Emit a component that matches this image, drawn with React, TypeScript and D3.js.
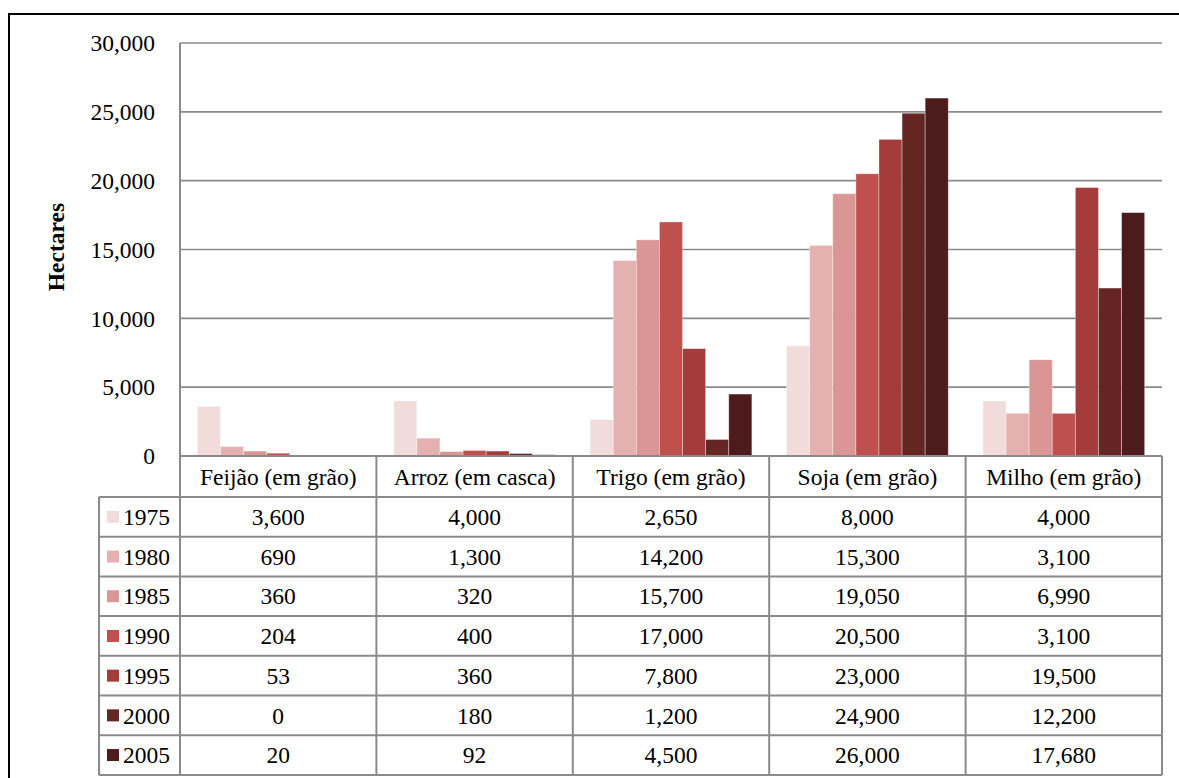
import React from "react";
import * as d3 from "d3";

const categories = ["Feijão (em grão)", "Arroz (em casca)", "Trigo (em grão)", "Soja (em grão)", "Milho (em grão)"];
const years = ["1975", "1980", "1985", "1990", "1995", "2000", "2005"];
const values1975 = [3600, 4000, 2650, 8000, 4000];
const values1980 = [690, 1300, 14200, 15300, 3100];
const values1985 = [360, 320, 15700, 19050, 6990];
const values1990 = [204, 400, 17000, 20500, 3100];
const values1995 = [53, 360, 7800, 23000, 19500];
const values2000 = [0, 180, 1200, 24900, 12200];
const values2005 = [20, 92, 4500, 26000, 17680];
const seriesValues = [values1975, values1980, values1985, values1990, values1995, values2000, values2005];
const colors = ["#f2dcdb", "#e5b1b0", "#d99694", "#c0504d", "#a33c3a", "#642523", "#4d1b1b"];
const yTicks = [0, 5000, 10000, 15000, 20000, 25000, 30000];

const W = 1179;
const H = 778;
const plotLeft = 180;
const plotRight = 1162;
const plotTop = 43;
const plotBottom = 456;
const headerH = 41;
const rowH = 39.7;
const tableLeft = 99;
const FONT = "'Liberation Serif', 'Times New Roman', Times, serif";
const FS = 23.5;
const gridColor = "#8a8a8a";

export default function App() {
  const x0 = d3.scaleBand<string>().domain(categories).range([plotLeft, plotRight]).paddingInner(0).paddingOuter(0);
  const x1 = d3.scaleBand<string>().domain(years).range([0, x0.bandwidth()]).paddingInner(0).paddingOuter(0.75);
  const y = d3.scaleLinear().domain([0, 30000]).range([plotBottom, plotTop]);
  const fmt = d3.format(",");

  const tableBottom = plotBottom + headerH + rowH * years.length;
  const ts = { fontFamily: FONT, fontSize: FS } as React.CSSProperties;

  return (
    <svg width={W} height={H} style={{ position: "absolute", left: 0, top: 0, background: "#fff", fontFamily: FONT }}>
      <rect x={0} y={0} width={W} height={H} fill="#fff" />
      {/* outer frame */}
      <rect x={9} y={14} width={W + 20} height={H + 20} fill="none" stroke="#000" strokeWidth={2} />

      {/* gridlines */}
      {yTicks.slice(1).map((t) => (
        <line key={t} x1={plotLeft} x2={plotRight} y1={y(t)} y2={y(t)} stroke={gridColor} strokeWidth={1.6} />
      ))}
      {/* y tick labels */}
      {yTicks.map((t) => (
        <text key={t} x={155} y={y(t)} dy="0.35em" textAnchor="end" style={ts} fill="#000">
          {fmt(t)}
        </text>
      ))}
      {/* y axis line */}
      <line x1={plotLeft} x2={plotLeft} y1={plotTop} y2={plotBottom + headerH} stroke={gridColor} strokeWidth={2} />

      {/* bars */}
      {categories.map((c, ci) => (
        <g key={c} transform={`translate(${x0(c)},0)`}>
          {years.map((yr, si) => {
            const v = seriesValues[si][ci];
            const h = plotBottom - y(v);
            return (
              <rect
                key={yr}
                x={x1(yr)}
                y={y(v)}
                width={x1.bandwidth()}
                height={Math.max(0, h)}
                fill={colors[si]}
                stroke="rgba(255,255,255,0.45)"
                strokeWidth={0.8}
              />
            );
          })}
        </g>
      ))}

      {/* Hectares label */}
      <text
        transform={`translate(64,247) rotate(-90)`}
        textAnchor="middle"
        style={{ ...ts, fontWeight: "bold" }}
        fill="#000"
      >
        Hectares
      </text>

      {/* table */}
      <g stroke={gridColor} strokeWidth={2} fill="none">
        <line x1={plotLeft} x2={plotRight} y1={plotBottom} y2={plotBottom} />
        {years.map((yr, i) => (
          <line key={yr} x1={tableLeft} x2={plotRight} y1={plotBottom + headerH + rowH * i} y2={plotBottom + headerH + rowH * i} />
        ))}
        <line x1={tableLeft} x2={plotRight} y1={tableBottom} y2={tableBottom} />
        <line x1={tableLeft} x2={tableLeft} y1={plotBottom + headerH} y2={tableBottom} />
        {categories.map((c) => (
          <line key={c} x1={(x0(c) as number) + x0.bandwidth()} x2={(x0(c) as number) + x0.bandwidth()} y1={plotBottom} y2={tableBottom} />
        ))}
        <line x1={plotLeft} x2={plotLeft} y1={plotBottom} y2={tableBottom} />
      </g>

      {/* header text */}
      {categories.map((c) => (
        <text key={c} x={(x0(c) as number) + x0.bandwidth() / 2} y={plotBottom + headerH / 2} dy="0.35em" textAnchor="middle" style={ts} fill="#000">
          {c}
        </text>
      ))}

      {/* rows */}
      {years.map((yr, si) => {
        const cy = plotBottom + headerH + rowH * si + rowH / 2;
        return (
          <g key={yr}>
            <rect x={107} y={cy - 6} width={12} height={12} fill={colors[si]} />
            <text x={123} y={cy} dy="0.35em" style={ts} fill="#000">
              {yr}
            </text>
            {categories.map((c, ci) => (
              <text key={c} x={(x0(c) as number) + x0.bandwidth() / 2} y={cy} dy="0.35em" textAnchor="middle" style={ts} fill="#000">
                {fmt(seriesValues[si][ci])}
              </text>
            ))}
          </g>
        );
      })}
    </svg>
  );
}
